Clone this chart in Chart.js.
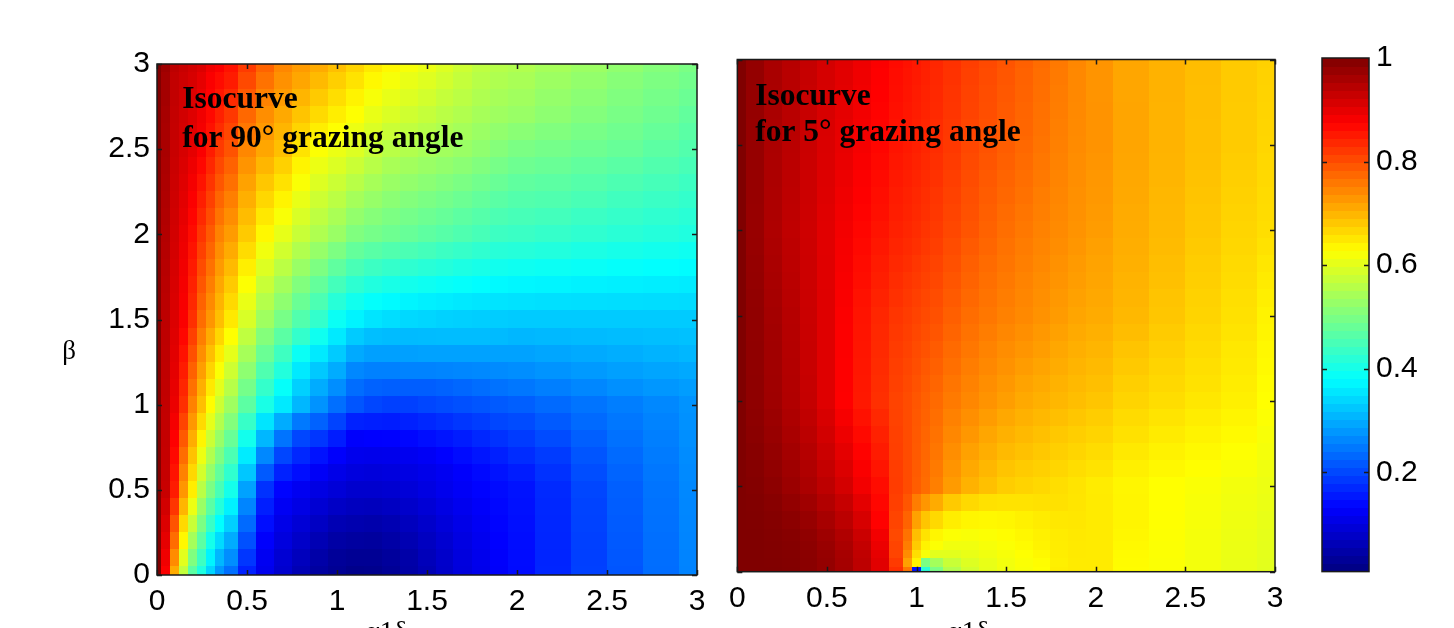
<!DOCTYPE html>
<html>
<head>
<meta charset="utf-8">
<script src="https://cdn.jsdelivr.net/npm/chart.js@4.4.1/dist/chart.umd.min.js"></script>
<style>
  body { margin: 0; background: #fff; }
  #wrap { position: relative; width: 1454px; height: 628px; overflow: hidden; background: #fff; }
  #wrap canvas { position: absolute; top: 0; }
</style>
</head>
<body>
<div id="wrap">
  <canvas id="cLeft" width="720" height="628" style="left:0px"></canvas>
  <canvas id="cRight" width="600" height="628" style="left:720px"></canvas>
  <canvas id="cBar" width="154" height="628" style="left:1300px"></canvas>
</div>
<script>
// tick labels
const axisTicks = [0, 0.5, 1, 1.5, 2, 2.5, 3];
const barTicks = [0.2, 0.4, 0.6, 0.8, 1];

// colour axis limits
const cMin = 0.0085;
const cMax = 1;

// left panel: 90 deg grazing angle, rows from beta = 3 down to 0
const alphaLeft = [0, 0.05, 0.1, 0.15, 0.2, 0.25, 0.3, 0.35, 0.4, 0.5, 0.6, 0.7, 0.8, 0.9, 1, 1.1, 1.2, 1.3, 1.4, 1.5, 1.6, 1.7, 1.8, 1.9, 2, 2.2, 2.4, 2.6, 2.8, 3];
const betaLeft = [3, 2.9, 2.8, 2.7, 2.6, 2.5, 2.4, 2.3, 2.2, 2.1, 2, 1.9, 1.8, 1.7, 1.6, 1.5, 1.4, 1.3, 1.2, 1.1, 1, 0.9, 0.8, 0.7, 0.6, 0.5, 0.4, 0.3, 0.2, 0.1, 0];
const left90 = [
  [1.00,.97,.94,.93,.92,.91,.89,.88,.86,.82,.78,.745,.725,.71,.69,.67,.65,.635,.62,.61,.595,.58,.565,.557,.552,.542,.532,.521,.51,.50],
  [1.0,.965,.935,.925,.915,.90,.88,.865,.85,.805,.765,.735,.715,.695,.675,.655,.635,.62,.607,.597,.584,.571,.558,.550,.545,.533,.523,.512,.502,.492],
  [1.0,.965,.935,.922,.91,.895,.875,.855,.835,.79,.75,.725,.70,.68,.66,.64,.62,.606,.595,.584,.572,.562,.55,.543,.537,.525,.515,.505,.495,.484],
  [1.0,.962,.933,.92,.907,.89,.868,.845,.822,.775,.738,.712,.686,.664,.645,.627,.607,.593,.582,.572,.561,.552,.542,.535,.529,.518,.508,.498,.488,.476],
  [1.0,.96,.932,.917,.904,.886,.86,.833,.808,.76,.727,.70,.67,.645,.627,.61,.592,.577,.567,.558,.549,.541,.531,.522,.514,.506,.497,.489,.479,.468],
  [1.0,.96,.93,.915,.90,.88,.85,.82,.795,.745,.715,.69,.655,.625,.61,.595,.575,.56,.553,.545,.538,.53,.52,.51,.50,.494,.487,.48,.47,.46],
  [1.0,.958,.928,.911,.893,.869,.838,.806,.781,.732,.699,.673,.639,.610,.594,.577,.559,.545,.538,.530,.523,.515,.506,.496,.487,.482,.475,.468,.459,.450],
  [1.0,.956,.926,.907,.886,.858,.826,.792,.767,.719,.683,.656,.623,.595,.578,.559,.543,.530,.523,.515,.508,.500,.491,.482,.474,.470,.463,.455,.448,.440],
  [1.0,.954,.924,.903,.879,.847,.814,.778,.753,.706,.667,.639,.607,.580,.562,.541,.527,.515,.508,.500,.493,.485,.477,.468,.461,.458,.451,.443,.437,.430],
  [1.0,.952,.922,.899,.872,.836,.802,.764,.739,.693,.651,.622,.591,.565,.546,.523,.511,.501,.494,.486,.479,.471,.463,.454,.449,.445,.438,.432,.426,.420],
  [1.0,.95,.92,.895,.865,.825,.79,.75,.725,.68,.635,.605,.575,.55,.53,.505,.495,.487,.48,.472,.465,.457,.449,.44,.437,.432,.426,.42,.415,.41],
  [1.0,.948,.918,.892,.858,.814,.778,.738,.71,.662,.615,.583,.552,.526,.502,.478,.467,.459,.453,.446,.439,.433,.426,.418,.416,.412,.407,.402,.398,.394],
  [1.0,.946,.916,.889,.851,.803,.766,.726,.695,.644,.595,.562,.529,.502,.474,.451,.439,.431,.425,.419,.414,.408,.403,.397,.394,.391,.388,.384,.381,.378],
  [1.0,.944,.914,.886,.844,.792,.754,.714,.68,.626,.575,.54,.506,.478,.446,.424,.411,.404,.398,.393,.388,.384,.379,.375,.373,.371,.368,.366,.364,.362],
  [1.0,.942,.912,.883,.837,.781,.742,.702,.665,.608,.555,.519,.483,.454,.418,.397,.383,.376,.371,.366,.363,.359,.356,.354,.352,.350,.349,.348,.347,.346],
  [1.0,.94,.91,.88,.83,.77,.73,.69,.65,.59,.535,.497,.46,.43,.39,.37,.355,.348,.343,.34,.337,.335,.333,.332,.33,.33,.33,.33,.33,.33],
  [1.0,.939,.907,.87,.814,.754,.71,.668,.627,.566,.509,.469,.43,.395,.36,.33,.318,.315,.314,.315,.316,.316,.316,.314,.31,.312,.314,.316,.318,.32],
  [1.0,.938,.904,.86,.798,.738,.69,.646,.604,.542,.483,.441,.39,.36,.33,.298,.288,.288,.288,.29,.29,.29,.29,.29,.29,.294,.298,.302,.306,.31],
  [1.0,.937,.901,.85,.782,.722,.67,.624,.581,.518,.457,.413,.36,.328,.30,.265,.258,.258,.26,.26,.262,.264,.266,.268,.27,.276,.282,.288,.293,.297],
  [1.0,.936,.898,.84,.766,.706,.65,.602,.558,.494,.431,.385,.335,.30,.27,.238,.228,.225,.224,.224,.228,.233,.238,.243,.248,.256,.264,.272,.279,.285],
  [1.0,.935,.895,.83,.75,.69,.63,.58,.535,.47,.405,.36,.31,.275,.24,.215,.2,.195,.195,.2,.205,.21,.215,.22,.225,.235,.245,.255,.265,.275],
  [1.0,.934,.886,.81,.729,.664,.604,.554,.508,.434,.355,.3,.25,.228,.198,.165,.162,.16,.164,.17,.177,.185,.192,.2,.205,.22,.235,.248,.26,.273],
  [1.0,.933,.877,.79,.708,.638,.578,.528,.481,.398,.31,.245,.2,.185,.16,.13,.132,.133,.137,.145,.152,.16,.17,.18,.19,.205,.225,.242,.256,.271],
  [1.0,.932,.868,.77,.687,.612,.552,.502,.454,.362,.265,.2,.17,.15,.13,.115,.113,.114,.118,.124,.133,.143,.153,.163,.175,.19,.215,.235,.252,.269],
  [1.0,.931,.859,.75,.666,.586,.526,.476,.427,.326,.22,.165,.145,.125,.11,.1,.097,.1,.105,.112,.12,.13,.14,.15,.16,.18,.207,.23,.248,.267],
  [1.0,.93,.85,.73,.645,.56,.5,.45,.4,.29,.18,.135,.12,.105,.095,.085,.085,.088,.095,.104,.115,.125,.134,.142,.15,.172,.2,.225,.245,.265],
  [1.0,.92,.825,.7,.61,.53,.468,.415,.368,.262,.162,.122,.107,.09,.077,.07,.068,.073,.082,.093,.105,.117,.128,.138,.148,.17,.198,.223,.243,.264],
  [1.0,.91,.795,.665,.575,.5,.435,.38,.335,.235,.145,.11,.093,.075,.06,.055,.052,.058,.069,.082,.096,.11,.123,.135,.146,.169,.197,.221,.242,.263],
  [1.0,.9,.77,.635,.54,.47,.4,.345,.3,.21,.13,.1,.08,.06,.045,.04,.038,.046,.058,.072,.088,.104,.118,.132,.144,.168,.195,.219,.24,.262],
  [1.0,.89,.74,.6,.505,.44,.37,.31,.27,.185,.12,.09,.068,.048,.033,.028,.028,.036,.048,.065,.082,.1,.115,.13,.143,.167,.194,.217,.239,.261],
  [1.0,.88,.71,.57,.47,.41,.34,.28,.24,.165,.115,.085,.06,.04,.028,.02,.022,.03,.045,.06,.08,.098,.113,.128,.142,.168,.195,.215,.238,.26]
];

// right panel: 5 deg grazing angle, rows from beta = 3 down to 0
const alphaRight = [0, 0.1, 0.2, 0.3, 0.4, 0.5, 0.6, 0.7, 0.8, 0.9, 0.95, 1, 1.05, 1.1, 1.2, 1.3, 1.4, 1.5, 1.6, 1.7, 1.8, 1.9, 2, 2.2, 2.4, 2.6, 2.8, 3];
const betaRight = [3, 2.9, 2.8, 2.7, 2.6, 2.5, 2.4, 2.3, 2.2, 2.1, 2, 1.9, 1.8, 1.7, 1.6, 1.5, 1.4, 1.3, 1.2, 1.1, 1, 0.9, 0.8, 0.7, 0.6, 0.5, 0.4, 0.3, 0.2, 0.15, 0.1, 0.05, 0];
const right5 = [
  [1.0,.98,.96,.946,.932,.918,.905,.892,.879,.866,.86,.853,.846,.839,.828,.816,.805,.794,.783,.771,.758,.745,.732,.715,.703,.692,.68,.673],
  [1.0,.98,.96,.945,.931,.917,.904,.891,.877,.864,.858,.852,.845,.838,.827,.814,.803,.792,.781,.769,.757,.744,.732,.715,.703,.692,.68,.672],
  [1.0,.979,.959,.945,.930,.916,.902,.889,.876,.863,.857,.850,.843,.837,.826,.812,.801,.791,.780,.768,.756,.744,.732,.715,.703,.691,.680,.671],
  [1.0,.979,.959,.944,.930,.915,.901,.888,.874,.861,.855,.849,.842,.836,.825,.811,.800,.789,.778,.766,.755,.743,.733,.716,.702,.691,.679,.670],
  [1.0,.978,.958,.944,.929,.913,.899,.886,.873,.860,.854,.847,.840,.834,.823,.809,.798,.788,.777,.765,.753,.742,.733,.716,.702,.690,.679,.669],
  [1.0,.978,.958,.943,.928,.912,.898,.885,.871,.858,.852,.846,.839,.833,.822,.807,.796,.786,.775,.763,.752,.741,.733,.716,.702,.69,.679,.668],
  [1.0,.978,.957,.942,.927,.911,.896,.882,.868,.855,.849,.843,.836,.830,.819,.804,.793,.783,.772,.760,.750,.739,.731,.715,.701,.689,.677,.666],
  [1.0,.977,.957,.941,.926,.909,.894,.879,.866,.853,.847,.841,.834,.828,.816,.802,.790,.779,.769,.758,.748,.738,.729,.713,.700,.687,.675,.665],
  [1.0,.977,.956,.940,.926,.908,.891,.877,.863,.850,.844,.838,.831,.825,.813,.799,.787,.776,.766,.755,.746,.736,.728,.712,.698,.686,.673,.663],
  [1.0,.976,.956,.939,.925,.906,.889,.874,.861,.848,.842,.836,.829,.823,.810,.797,.784,.772,.762,.753,.744,.735,.726,.710,.697,.684,.671,.662],
  [1.0,.976,.955,.938,.924,.905,.887,.871,.858,.845,.839,.833,.826,.82,.807,.794,.781,.769,.759,.75,.742,.733,.724,.709,.696,.683,.669,.66],
  [1.0,.977,.957,.940,.925,.905,.885,.868,.854,.841,.835,.829,.822,.816,.802,.789,.777,.765,.756,.747,.739,.730,.721,.707,.694,.680,.667,.656],
  [1.0,.979,.959,.941,.926,.906,.884,.865,.850,.837,.831,.824,.817,.811,.798,.784,.772,.762,.753,.744,.735,.726,.718,.705,.691,.677,.664,.652],
  [1.0,.980,.961,.943,.926,.906,.882,.863,.847,.833,.826,.820,.813,.807,.793,.780,.768,.758,.749,.740,.732,.723,.716,.702,.689,.675,.662,.648],
  [1.0,.982,.963,.945,.927,.907,.881,.860,.843,.829,.822,.815,.808,.802,.789,.775,.764,.755,.746,.737,.728,.720,.713,.700,.686,.672,.659,.644],
  [1.0,.983,.965,.947,.928,.907,.879,.858,.839,.825,.818,.811,.804,.798,.784,.77,.76,.751,.743,.734,.725,.716,.71,.697,.684,.67,.657,.64],
  [1.0,.983,.966,.948,.929,.907,.878,.857,.837,.822,.815,.807,.800,.793,.779,.765,.755,.745,.737,.728,.720,.711,.705,.692,.679,.666,.654,.638],
  [1.0,.984,.967,.949,.930,.907,.878,.856,.836,.819,.812,.803,.796,.788,.773,.760,.749,.739,.731,.723,.714,.706,.700,.686,.675,.663,.651,.635],
  [1.0,.984,.967,.950,.930,.907,.877,.855,.834,.816,.808,.800,.791,.783,.768,.755,.744,.734,.724,.717,.709,.701,.695,.681,.670,.659,.649,.633],
  [1.0,.985,.968,.951,.931,.907,.877,.854,.832,.814,.805,.796,.787,.778,.762,.750,.738,.728,.718,.711,.703,.696,.690,.675,.666,.656,.646,.630],
  [1.0,.985,.969,.952,.932,.907,.876,.853,.83,.811,.802,.792,.783,.773,.757,.745,.733,.722,.712,.705,.698,.691,.685,.67,.661,.652,.643,.628],
  [1.0,.987,.973,.956,.937,.914,.884,.860,.837,.812,.802,.791,.781,.769,.751,.737,.724,.713,.704,.697,.690,.684,.677,.663,.654,.646,.638,.625],
  [1.0,.989,.976,.960,.942,.920,.893,.867,.844,.814,.802,.790,.778,.765,.745,.729,.715,.704,.696,.689,.682,.676,.670,.657,.648,.640,.633,.621],
  [1.0,.992,.980,.965,.948,.927,.901,.874,.850,.815,.802,.789,.776,.761,.738,.720,.707,.695,.688,.682,.675,.669,.662,.650,.641,.634,.627,.618],
  [1.0,.994,.983,.969,.953,.933,.910,.881,.857,.817,.802,.788,.773,.757,.732,.712,.698,.686,.679,.674,.668,.661,.655,.643,.635,.629,.622,.614],
  [1.0,.996,.987,.973,.958,.94,.918,.888,.864,.818,.802,.786,.771,.753,.725,.703,.689,.677,.671,.666,.66,.654,.647,.637,.628,.623,.617,.611],
  [1.0,.998,.992,.981,.968,.951,.931,.902,.87,.815,.792,.755,.73,.71,.68,.665,.657,.655,.655,.657,.657,.653,.648,.638,.628,.621,.615,.609],
  [1.0,.999,.995,.988,.977,.962,.942,.915,.875,.81,.78,.72,.685,.665,.645,.637,.635,.637,.642,.647,.651,.652,.648,.638,.627,.62,.613,.606],
  [1.0,1.0,.997,.993,.984,.97,.953,.927,.888,.805,.765,.69,.655,.637,.625,.622,.625,.63,.636,.642,.647,.65,.648,.636,.626,.618,.611,.604],
  [1.0,1.0,.998,.995,.987,.975,.958,.933,.895,.81,.755,.68,.64,.625,.615,.615,.62,.625,.632,.64,.646,.649,.648,.634,.625,.618,.61,.603],
  [1.0,1.0,.998,.996,.989,.978,.962,.937,.9,.81,.74,.66,.62,.6,.6,.607,.614,.62,.627,.635,.645,.649,.648,.632,.625,.617,.609,.602],
  [1.0,1.0,.999,.997,.99,.98,.964,.94,.905,.82,.72,.64,.5,.54,.575,.595,.607,.617,.624,.63,.643,.648,.648,.631,.624,.617,.608,.601],
  [1.0,1.0,1.0,.998,.99,.98,.965,.94,.905,.83,.76,.15,.42,.5,.555,.585,.605,.615,.622,.628,.645,.648,.648,.63,.624,.617,.608,.6]
];

Chart.defaults.font.family = '"Liberation Sans", Arial, sans-serif';
Chart.defaults.color = '#000';

// matlab-like jet colormap
function jet(v) {
  var f = (v - cMin) / (cMax - cMin);
  f = Math.max(0, Math.min(1, f));
  var c = function(t) {
    return Math.round(255 * Math.max(0, Math.min(1, 1.5 - Math.abs(4 * f - t))));
  };
  return 'rgb(' + c(3) + ',' + c(2) + ',' + c(1) + ')';
}

// cell edges half way between neighbouring samples
function edges(arr) {
  return arr.map(function(v, i) {
    var lo = i === 0 ? v : (arr[i - 1] + v) / 2;
    var hi = i === arr.length - 1 ? v : (v + arr[i + 1]) / 2;
    return [Math.min(lo, hi), Math.max(lo, hi)];
  });
}

function gridPoints(xs, ys, grid) {
  var ex = edges(xs), ey = edges(ys), pts = [];
  ys.forEach(function(y, j) {
    xs.forEach(function(x, i) {
      pts.push({ x: x, y: y, v: grid[j][i], x0: ex[i][0], x1: ex[i][1], y0: ey[j][0], y1: ey[j][1] });
    });
  });
  return pts;
}

// draws the filled cells through the chart scales
const heatCells = {
  id: 'heatCells',
  beforeDatasetsDraw(chart) {
    var ctx = chart.ctx, sx = chart.scales.x, sy = chart.scales.y, a = chart.chartArea;
    var ds = chart.data.datasets[0];
    if (!ds) return;
    ctx.save();
    ctx.beginPath();
    ctx.rect(a.left, a.top, a.width, a.height);
    ctx.clip();
    ds.data.forEach(function(p) {
      var l = Math.floor(sx.getPixelForValue(p.x0));
      var r = Math.ceil(sx.getPixelForValue(p.x1));
      var t = Math.floor(sy.getPixelForValue(p.y1));
      var b = Math.ceil(sy.getPixelForValue(p.y0));
      ctx.fillStyle = jet(p.v);
      ctx.fillRect(l, t, r - l, b - t);
    });
    ctx.restore();
  }
};

// colour bar bands
const colorBar = {
  id: 'colorBar',
  beforeDatasetsDraw(chart, args, opts) {
    if (!opts.bands) return;
    var ctx = chart.ctx, sy = chart.scales.y, a = chart.chartArea;
    var n = opts.bands;
    for (var k = 0; k < n; k++) {
      var v0 = cMin + (cMax - cMin) * k / n;
      var v1 = cMin + (cMax - cMin) * (k + 1) / n;
      var t = Math.floor(sy.getPixelForValue(v1));
      var b = Math.ceil(sy.getPixelForValue(v0));
      ctx.fillStyle = jet((v0 + v1) / 2);
      ctx.fillRect(a.left, t, a.width, b - t);
    }
  }
};

// box and inward tick marks, matlab style
const axesFrame = {
  id: 'axesFrame',
  afterDraw(chart, args, opts) {
    var ctx = chart.ctx, a = chart.chartArea;
    var sx = chart.scales.x, sy = chart.scales.y;
    ctx.save();
    ctx.strokeStyle = '#1a1a1a';
    ctx.lineWidth = 1.5;
    ctx.strokeRect(a.left, a.top, a.width, a.height);
    ctx.beginPath();
    (opts.xTicks || []).forEach(function(v) {
      var px = Math.round(sx.getPixelForValue(v)) + 0.5;
      ctx.moveTo(px, a.top); ctx.lineTo(px, a.top + 5);
      ctx.moveTo(px, a.bottom); ctx.lineTo(px, a.bottom - 5);
    });
    (opts.yTicks || []).forEach(function(v) {
      var py = Math.round(sy.getPixelForValue(v)) + 0.5;
      ctx.moveTo(a.left, py); ctx.lineTo(a.left + 5, py);
      ctx.moveTo(a.right, py); ctx.lineTo(a.right - 5, py);
    });
    ctx.stroke();
    ctx.restore();
  }
};

// text: annotations in data units, axis labels in pixels
const notes = {
  id: 'notes',
  afterDatasetsDraw(chart, args, opts) {
    var ctx = chart.ctx, sx = chart.scales.x, sy = chart.scales.y;
    ctx.save();
    ctx.fillStyle = '#000';
    ctx.textBaseline = 'alphabetic';
    (opts.items || []).forEach(function(it) {
      ctx.font = it.font;
      ctx.textAlign = it.align || 'left';
      var px = it.data ? sx.getPixelForValue(it.x) : it.x;
      var py = it.data ? sy.getPixelForValue(it.y) : it.y;
      ctx.fillText(it.text, px, py);
    });
    ctx.restore();
  }
};

const noteFont = 'bold 31.5px "Liberation Serif", "Times New Roman", serif';
const tickFont = { size: 30 };

function panelScales(showY, xHeight, yWidth) {
  return {
    x: {
      type: 'linear', min: 0, max: 3,
      afterBuildTicks: function(s) { s.ticks = axisTicks.map(function(v) { return { value: v }; }); },
      afterFit: function(s) { s.height = xHeight; },
      ticks: { font: tickFont, color: '#000', padding: 9, maxRotation: 0, autoSkip: false,
               callback: function(v) { return String(v); } },
      grid: { display: false, drawTicks: false },
      border: { display: false }
    },
    y: {
      type: 'linear', min: 0, max: 3,
      afterBuildTicks: function(s) { s.ticks = axisTicks.map(function(v) { return { value: v }; }); },
      afterFit: function(s) { s.width = yWidth; },
      ticks: { display: showY, font: tickFont, color: '#000', padding: 7,
               callback: function(v) { return String(v); } },
      grid: { display: false, drawTicks: false },
      border: { display: false }
    }
  };
}

function panelChart(id, xs, ys, grid, padding, showY, xHeight, yWidth, items) {
  return new Chart(document.getElementById(id), {
    type: 'scatter',
    data: { datasets: [{ data: gridPoints(xs, ys, grid), pointRadius: 0, pointHoverRadius: 0 }] },
    options: {
      responsive: false,
      animation: false,
      events: [],
      layout: { padding: padding },
      scales: panelScales(showY, xHeight, yWidth),
      plugins: {
        legend: { display: false },
        tooltip: { enabled: false },
        axesFrame: { xTicks: axisTicks, yTicks: axisTicks },
        notes: { items: items }
      }
    },
    plugins: [heatCells, axesFrame, notes]
  });
}

panelChart('cLeft', alphaLeft, betaLeft, left90,
  { left: 0, top: 64, right: 23, bottom: 0 }, true, 53, 157, [
    { text: 'Isocurve', x: 0.14, y: 2.74, data: true, font: noteFont },
    { text: 'for 90\u00B0 grazing angle', x: 0.14, y: 2.515, data: true, font: noteFont },
    { text: '\u03B2', x: 69, y: 359, font: '27px "Liberation Serif", serif', align: 'center' },
    { text: '\u03B11\u03B4', x: 365, y: 640, font: '28px "Liberation Serif", serif' }
  ]);

panelChart('cRight', alphaRight, betaRight, right5,
  { left: 0, top: 59.5, right: 45, bottom: 0 }, false, 56.3, 15, [
    { text: 'Isocurve', x: 0.1, y: 2.735, data: true, font: noteFont },
    { text: 'for 5\u00B0 grazing angle', x: 0.1, y: 2.52, data: true, font: noteFont },
    { text: '\u03B11\u03B4', x: 227, y: 640, font: '28px "Liberation Serif", serif' }
  ]);

new Chart(document.getElementById('cBar'), {
  type: 'scatter',
  data: { datasets: [] },
  options: {
    responsive: false,
    animation: false,
    events: [],
    layout: { padding: { left: 22, top: 58, right: 0, bottom: 56.4 } },
    scales: {
      x: { display: false, min: 0, max: 1 },
      y: {
        type: 'linear', position: 'right', min: cMin, max: cMax,
        afterBuildTicks: function(s) { s.ticks = barTicks.map(function(v) { return { value: v }; }); },
        afterFit: function(s) { s.width = 85; },
        ticks: { font: tickFont, color: '#000', padding: 7, callback: function(v) { return String(v); } },
        grid: { display: false, drawTicks: false },
        border: { display: false }
      }
    },
    plugins: {
      legend: { display: false },
      tooltip: { enabled: false },
      colorBar: { bands: 64 },
      axesFrame: { xTicks: [], yTicks: [0.2, 0.4, 0.6, 0.8] }
    }
  },
  plugins: [colorBar, axesFrame]
});
</script>
</body>
</html>
